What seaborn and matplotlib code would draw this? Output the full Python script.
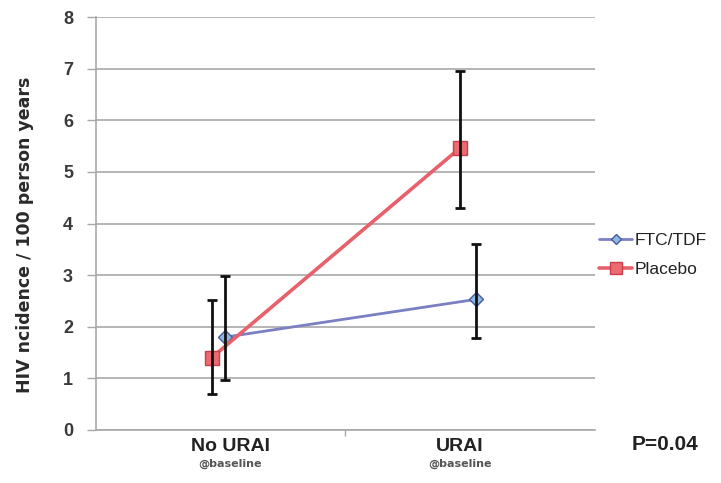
import matplotlib
matplotlib.use("Agg")
import matplotlib.pyplot as plt
import matplotlib.transforms as mtransforms
from matplotlib.lines import Line2D
import seaborn as sns
import pandas as pd

# ---- data ----
categories = ["No URAI", "URAI"]
sub_labels = ["@baseline", "@baseline"]
series = ["FTC/TDF", "Placebo"]
ftc_values = [1.80, 2.53]
ftc_low = [0.97, 1.78]
ftc_high = [2.98, 3.60]
placebo_values = [1.40, 5.46]
placebo_low = [0.70, 4.30]
placebo_high = [2.52, 6.96]
y_ticks = [0, 1, 2, 3, 4, 5, 6, 7, 8]
y_label = "HIV ncidence / 100 person years"
p_text = "P=0.04"

# ---- build long table ----
rows = []
for g, vals, lo, hi in [("FTC/TDF", ftc_values, ftc_low, ftc_high),
                        ("Placebo", placebo_values, placebo_low, placebo_high)]:
    for i, c in enumerate(categories):
        rows.append(dict(group=g, cat=c, ci=i, value=vals[i], lo=lo[i], hi=hi[i]))
df = pd.DataFrame(rows)

# small horizontal shifts as in the original (layout only)
shift = {("FTC/TDF", 0): -0.02, ("FTC/TDF", 1): 0.07,
         ("Placebo", 0): -0.08, ("Placebo", 1): 0.0}
df["x"] = [r.ci + shift[(r.group, r.ci)] for r in df.itertuples()]

sns.set_theme(style="white")
plt.rcParams["font.family"] = ["Liberation Sans", "DejaVu Sans"]

fig = plt.figure(figsize=(7.21, 4.83), dpi=100)
ax = fig.add_axes([96 / 721, 53 / 483, 499 / 721, 413 / 483])

line_colors = {"FTC/TDF": "#7b80c4", "Placebo": "#e8606a"}
face_colors = {"FTC/TDF": "#8fb8e2", "Placebo": "#ec6a72"}
edge_colors = {"FTC/TDF": "#4a5a9e", "Placebo": "#c8404a"}
line_widths = {"FTC/TDF": 2.0, "Placebo": 2.6}
markers = {"FTC/TDF": "D", "Placebo": "s"}
msize = {"FTC/TDF": 7, "Placebo": 10}

ax.yaxis.grid(True, color="#a8a8a8", linewidth=1.2, zorder=0)
ax.set_axisbelow(True)

for g in series:
    sub = df[df["group"] == g].sort_values("ci")
    sns.lineplot(data=sub, x="x", y="value", ax=ax, color=line_colors[g],
                 linewidth=line_widths[g], marker=markers[g], markersize=msize[g],
                 markerfacecolor=face_colors[g], markeredgecolor=edge_colors[g],
                 markeredgewidth=1.0, label=g, zorder=3, legend=False,
                 sort=False, errorbar=None)
    ax.errorbar(sub["x"], sub["value"],
                yerr=[sub["value"] - sub["lo"], sub["hi"] - sub["value"]],
                fmt="none", ecolor="#111111", elinewidth=2.0, capsize=3.5,
                capthick=2.0, zorder=4)

ax.set_xlim(-0.583, 1.588)
ax.set_ylim(0, 8)
ax.set_yticks(y_ticks)
ax.set_yticklabels([str(t) for t in y_ticks], fontsize=13, fontweight="bold",
                   color="#3a3a3a")
ax.set_xticks([0.5])
ax.set_xticklabels([""])
ax.tick_params(axis="y", which="major", length=6.5, width=1, color="#a8a8a8",
               direction="out", pad=10, left=True)
ax.tick_params(axis="x", which="major", length=4, width=1, color="#a8a8a8",
               direction="out", bottom=True)
ax.set_xlabel("")
ax.set_ylabel(y_label, fontsize=12.5, fontweight="bold", color="#2a2a2a",
              family="DejaVu Sans")
ax.yaxis.set_label_coords(-0.125, 0.472)

for s in ["top", "right"]:
    ax.spines[s].set_visible(False)
for s in ["left", "bottom"]:
    ax.spines[s].set_color("#a8a8a8")
    ax.spines[s].set_linewidth(1.2)

trans = mtransforms.blended_transform_factory(ax.transData, ax.transAxes)
for i, (c, s) in enumerate(zip(categories, sub_labels)):
    ax.text(i, -0.040, c, transform=trans, ha="center", va="center",
            fontsize=14, fontweight="bold", color="#222222")
    ax.text(i, -0.082, s, transform=trans, ha="center", va="center",
            fontsize=8, fontweight="bold", color="#555555", family="DejaVu Sans")
fig.text(665 / 721, 1 - 445 / 483, p_text, ha="center", va="center",
         fontsize=15, fontweight="bold", color="#222222")

handles = []
for g in series:
    handles.append(Line2D([0], [0], color=line_colors[g], linewidth=line_widths[g],
                          marker=markers[g], markersize=msize[g] * 0.8,
                          markerfacecolor=face_colors[g],
                          markeredgecolor=edge_colors[g]))
leg = ax.legend(handles, series, loc="center left", bbox_to_anchor=(0.995, 0.424),
                frameon=False, fontsize=12.5, handlelength=1.9, handletextpad=0.15,
                labelspacing=0.8, borderaxespad=0)
for t in leg.get_texts():
    t.set_color("#222222")

fig.savefig("out.png", dpi=100)
